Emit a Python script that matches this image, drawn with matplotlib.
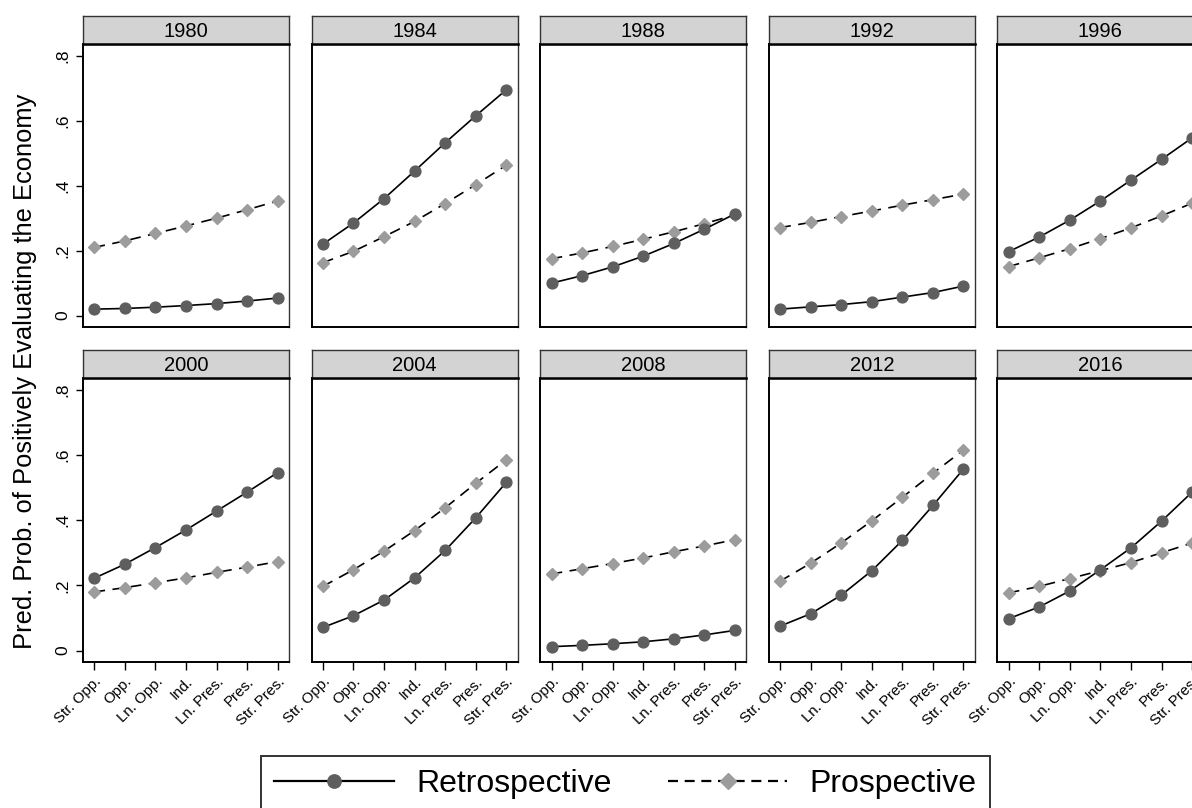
import matplotlib
matplotlib.use("Agg")
import matplotlib.pyplot as plt
from matplotlib.lines import Line2D

plt.rcParams['font.family'] = ['Liberation Sans', 'DejaVu Sans']

categories = ["Str. Opp.", "Opp.", "Ln. Opp.", "Ind.", "Ln. Pres.", "Pres.", "Str. Pres."]
years = [1980, 1984, 1988, 1992, 1996, 2000, 2004, 2008, 2012, 2016]

retrospective = [
    [0.020, 0.022, 0.026, 0.031, 0.037, 0.045, 0.054],   # 1980
    [0.220, 0.285, 0.360, 0.445, 0.532, 0.615, 0.695],   # 1984
    [0.100, 0.123, 0.150, 0.183, 0.222, 0.266, 0.313],   # 1988
    [0.020, 0.027, 0.034, 0.043, 0.057, 0.071, 0.091],   # 1992
    [0.197, 0.242, 0.294, 0.353, 0.417, 0.481, 0.547],   # 1996
    [0.222, 0.265, 0.316, 0.370, 0.428, 0.486, 0.546],   # 2000
    [0.071, 0.107, 0.155, 0.223, 0.307, 0.407, 0.516],   # 2004
    [0.012, 0.016, 0.021, 0.027, 0.036, 0.048, 0.062],   # 2008
    [0.075, 0.113, 0.170, 0.245, 0.338, 0.445, 0.557],   # 2012
    [0.098, 0.134, 0.183, 0.248, 0.315, 0.397, 0.486],   # 2016
]
prospective = [
    [0.210, 0.230, 0.253, 0.276, 0.300, 0.326, 0.353],   # 1980
    [0.163, 0.198, 0.243, 0.290, 0.345, 0.403, 0.463],   # 1984
    [0.175, 0.193, 0.213, 0.235, 0.258, 0.283, 0.310],   # 1988
    [0.271, 0.287, 0.305, 0.322, 0.340, 0.357, 0.374],   # 1992
    [0.151, 0.178, 0.206, 0.237, 0.270, 0.307, 0.346],   # 1996
    [0.180, 0.193, 0.208, 0.223, 0.240, 0.256, 0.273],   # 2000
    [0.197, 0.248, 0.305, 0.368, 0.438, 0.513, 0.585],   # 2004
    [0.235, 0.251, 0.267, 0.284, 0.303, 0.321, 0.340],   # 2008
    [0.213, 0.268, 0.330, 0.398, 0.470, 0.544, 0.615],   # 2012
    [0.177, 0.197, 0.221, 0.245, 0.270, 0.300, 0.330],   # 2016
]
yticks = [0, 0.2, 0.4, 0.6, 0.8]
ytick_labels = ["0", ".2", ".4", ".6", ".8"]

W, H = 1192, 808
fig = plt.figure(figsize=(W / 100, H / 100), dpi=100)

RETRO_C = "#5e5e5e"
PRO_C = "#9c9c9c"
panel_w = 206
step = 228.6
left0 = 83
rows = [(44, 327, 16), (378, 662, 350)]  # plot top, plot bottom, header top

for i, yr in enumerate(years):
    r, c = divmod(i, 5)
    ptop, pbot, htop = rows[r]
    lx = left0 + c * step
    ax = fig.add_axes([lx / W, 1 - pbot / H, panel_w / W, (pbot - ptop) / H])
    xs = list(range(len(categories)))
    ax.plot(xs, retrospective[i], color="black", lw=1.2, marker="o", ms=7.8,
            mfc=RETRO_C, mec=RETRO_C, zorder=3, clip_on=False)
    ax.plot(xs, prospective[i], color="black", lw=1.2, ls=(0, (6.5, 4.5)), marker="D", ms=6.2,
            mfc=PRO_C, mec=PRO_C, zorder=2, clip_on=False)
    ax.set_xlim(-0.37, 6.37)
    ax.set_ylim(-0.035, 0.836)
    for s in ax.spines.values():
        s.set_color("#333333")
        s.set_linewidth(1.0)
    ax.spines['bottom'].set_color("black")
    ax.spines['left'].set_color("black")
    ax.spines['bottom'].set_linewidth(1.4)
    ax.spines['left'].set_linewidth(1.4)
    ax.set_yticks(yticks)
    if c == 0:
        ax.set_yticklabels(ytick_labels, rotation=90, va="center", fontsize=12.5)
        ax.tick_params(axis="y", length=5, width=1, pad=4)
    else:
        ax.tick_params(axis="y", length=0, labelleft=False)
    ax.set_xticks(xs)
    if r == 1:
        ax.set_xticklabels(categories, rotation=45, ha="right", rotation_mode="anchor", fontsize=10.8)
        ax.tick_params(axis="x", length=6, width=1, pad=3)
    else:
        ax.tick_params(axis="x", length=0, labelbottom=False)
    # header strip
    hax = fig.add_axes([lx / W, 1 - ptop / H, panel_w / W, (ptop - htop) / H])
    hax.set_facecolor("#d3d3d3")
    hax.set_xticks([]); hax.set_yticks([])
    for s in hax.spines.values():
        s.set_color("#333333")
        s.set_linewidth(1.0)
    hax.spines['bottom'].set_color("black")
    hax.spines['bottom'].set_linewidth(1.8)
    hax.text(0.5, 0.45, str(yr), ha="center", va="center", fontsize=14.5, transform=hax.transAxes)

fig.text(25 / W, 1 - 371 / H, "Pred. Prob. of Positively Evaluating the Economy",
         rotation=90, ha="center", va="center", fontsize=18.4)

handles = [
    Line2D([], [], color="black", lw=1.6, marker="o", ms=9.6, mfc=RETRO_C, mec=RETRO_C),
    Line2D([], [], color="black", lw=1.6, ls=(0, (4.5, 3)), marker="D", ms=8.4, mfc=PRO_C, mec=PRO_C),
]
leg = fig.legend(handles, ["Retrospective", "Prospective"], loc="upper center",
                 bbox_to_anchor=(625.5 / W, 1 - 756 / H), ncol=2, fontsize=23,
                 frameon=True, fancybox=False, edgecolor="black", handlelength=3.75,
                 columnspacing=1.75, handletextpad=0.7, borderpad=0.42, borderaxespad=0)
leg.get_frame().set_linewidth(1.4)

fig.savefig("out.png", dpi=100)
